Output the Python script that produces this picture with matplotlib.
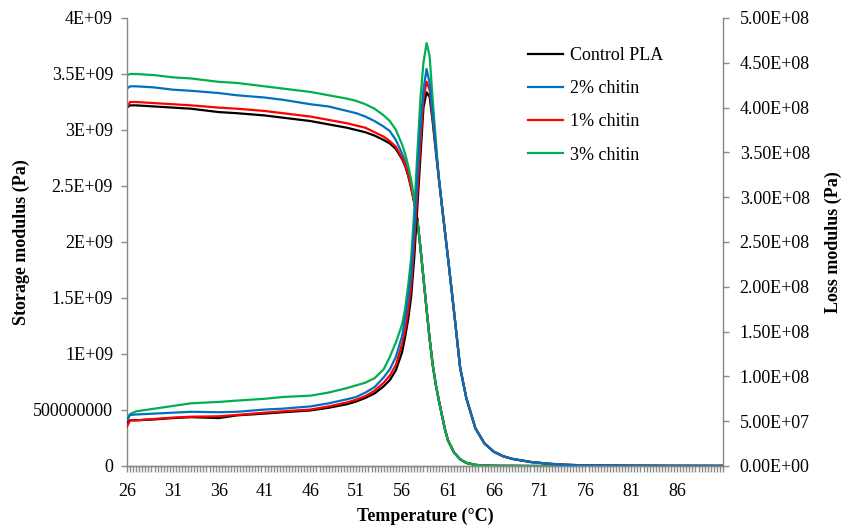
import matplotlib.pyplot as plt
import numpy as np
from matplotlib.ticker import FixedLocator, MultipleLocator

plt.rcParams['font.family'] = ['Liberation Serif', 'DejaVu Serif']
plt.rcParams['font.size'] = 13

# temperature sweep (deg C)
temperature = [26, 26.33, 27, 29, 31, 33, 36, 38, 41, 43,
               46, 48, 50, 51, 52, 53, 54, 54.67, 55.33, 56,
               56.33, 56.67, 57, 57.33, 57.67, 58, 58.33, 58.67, 59, 59.33,
               59.67, 60, 60.33, 60.67, 61, 61.67, 62.33, 63, 64, 65,
               66, 67, 68, 70, 72, 74, 76, 80, 85, 91]

# storage modulus, x1E9 Pa (26 .. 57.33 C per sample, then a common drop)
storage_control = [3.20, 3.22, 3.22, 3.21, 3.20, 3.19, 3.16, 3.15, 3.13, 3.11,
                   3.08, 3.05, 3.02, 3.00, 2.98, 2.95, 2.91, 2.88, 2.83, 2.74,
                   2.68, 2.59, 2.48, 2.35]
storage_2pct = [3.37, 3.39, 3.39, 3.38, 3.36, 3.35, 3.33, 3.31, 3.29, 3.27,
                3.23, 3.21, 3.17, 3.15, 3.12, 3.08, 3.03, 2.99, 2.91, 2.79,
                2.72, 2.62, 2.50, 2.36]
storage_1pct = [3.20, 3.25, 3.25, 3.24, 3.23, 3.22, 3.20, 3.19, 3.17, 3.15,
                3.12, 3.09, 3.06, 3.04, 3.02, 2.98, 2.94, 2.90, 2.85, 2.75,
                2.69, 2.60, 2.48, 2.35]
storage_3pct = [3.49, 3.50, 3.50, 3.49, 3.47, 3.46, 3.43, 3.42, 3.39, 3.37,
                3.34, 3.31, 3.28, 3.26, 3.23, 3.19, 3.13, 3.08, 3.00, 2.87,
                2.79, 2.68, 2.55, 2.38]
storage_drop = [2.20, 1.95, 1.68, 1.40, 1.14, 0.91, 0.73, 0.59, 0.46, 0.33,
                0.23, 0.12, 0.06, 0.028, 0.01, 0.004, 0.002, 0.001, 0.001, 0,
                0, 0, 0, 0, 0, 0]

# loss modulus, x1E8 Pa (26 .. 59.67 C per sample, then a common tail)
loss_control = [0.49, 0.51, 0.51, 0.52, 0.535, 0.545, 0.535, 0.565, 0.585, 0.60,
                0.62, 0.65, 0.69, 0.72, 0.76, 0.81, 0.89, 0.96, 1.07, 1.27,
                1.44, 1.64, 1.90, 2.33, 2.90, 3.45, 4.00, 4.17, 4.12, 3.85,
                3.52]
loss_2pct = [0.51, 0.57, 0.575, 0.585, 0.595, 0.605, 0.60, 0.605, 0.63, 0.64,
             0.665, 0.70, 0.745, 0.77, 0.82, 0.88, 0.99, 1.08, 1.22, 1.45,
             1.65, 1.88, 2.15, 2.65, 3.25, 3.80, 4.20, 4.43, 4.28, 3.92,
             3.57]
loss_1pct = [0.44, 0.51, 0.51, 0.525, 0.54, 0.55, 0.555, 0.57, 0.595, 0.61,
             0.63, 0.665, 0.71, 0.74, 0.78, 0.84, 0.93, 1.01, 1.13, 1.36,
             1.52, 1.74, 2.02, 2.50, 3.05, 3.60, 4.10, 4.29, 4.20, 3.88,
             3.55]
loss_3pct = [0.52, 0.58, 0.61, 0.64, 0.67, 0.70, 0.715, 0.73, 0.75, 0.77,
             0.785, 0.82, 0.87, 0.90, 0.93, 0.98, 1.08, 1.22, 1.38, 1.58,
             1.75, 2.02, 2.33, 2.85, 3.50, 4.10, 4.50, 4.72, 4.58, 4.10,
             3.65]
loss_tail = [3.22, 2.92, 2.62, 2.33, 1.72, 1.10, 0.76, 0.42, 0.25, 0.16,
             0.11, 0.08, 0.045, 0.025, 0.013, 0.007, 0.003, 0.001, 0.0005]

labels = ['Control PLA', '2% chitin', '1% chitin', '3% chitin']
colors = ['#000000', '#0070C0', '#FF0000', '#00B050']

storage_ticks = [0, 5e8, 1e9, 1.5e9, 2e9, 2.5e9, 3e9, 3.5e9, 4e9]
storage_ticklabels = ['0', '500000000', '1E+09', '1.5E+09', '2E+09',
                      '2.5E+09', '3E+09', '3.5E+09', '4E+09']
loss_ticks = np.arange(0, 5.01e8, 5e7)
temp_ticks = np.arange(26, 87, 5)

axis_grey = '#898989'

fig = plt.figure(figsize=(8.5, 5.28), dpi=100)
ax = fig.add_axes([127 / 850, 62 / 528, 596 / 850, 448 / 528])
ax2 = ax.twinx()

storage = [storage_control, storage_2pct, storage_1pct, storage_3pct]
loss = [loss_control, loss_2pct, loss_1pct, loss_3pct]

lines = []
for vals, lab, col in zip(storage, labels, colors):
    y = np.array(vals + storage_drop) * 1e9
    ln, = ax.plot(temperature, y, color=col, lw=1.6, label=lab)
    lines.append(ln)

# blue drawn last so it sits on top of the tail
for i in [0, 3, 2, 1]:
    y = np.array(loss[i] + loss_tail) * 1e8
    ax2.plot(temperature, y, color=colors[i], lw=1.6)

ax.set_xlim(26, 91)
ax.set_ylim(0, 4e9)
ax2.set_ylim(0, 5e8)

ax.yaxis.set_major_locator(FixedLocator(storage_ticks))
ax.set_yticklabels(storage_ticklabels)
ax2.yaxis.set_major_locator(FixedLocator(loss_ticks))
ax2.set_yticklabels([f'{v:.2E}' for v in loss_ticks])

ax.xaxis.set_major_locator(FixedLocator(temp_ticks))
ax.set_xticklabels([str(t) for t in temp_ticks])
ax.xaxis.set_minor_locator(MultipleLocator(1 / 3))

for a in (ax, ax2):
    a.spines['top'].set_visible(False)
    for s in a.spines.values():
        s.set_color(axis_grey)
        s.set_linewidth(1.0)
ax.spines['right'].set_visible(False)
ax2.spines['left'].set_visible(False)

ax.tick_params(axis='y', direction='out', length=4, width=1,
               color=axis_grey, pad=6)
ax2.tick_params(axis='y', direction='out', length=4, width=1,
                color=axis_grey, pad=8)
ax.tick_params(axis='x', which='both', direction='out', length=4, width=1,
               color=axis_grey, pad=8)

ax.set_xlabel('Temperature (°C)', fontweight='bold')
ax.set_ylabel('Storage modulus (Pa)', fontweight='bold')
ax2.set_ylabel('Loss modulus (Pa)', fontweight='bold', rotation=90)
ax.xaxis.set_label_coords(0.5, -0.094)
ax.yaxis.set_label_coords(-0.163, 0.5)
ax2.yaxis.set_label_coords(1.171, 0.5)

fig.legend(handles=lines, loc='upper left',
           bbox_to_anchor=(528 / 850, 1 - 47 / 528), frameon=False,
           borderpad=0, borderaxespad=0, handlelength=1.95,
           handletextpad=0.35, labelspacing=0.9)

fig.savefig('out.png', dpi=100)
